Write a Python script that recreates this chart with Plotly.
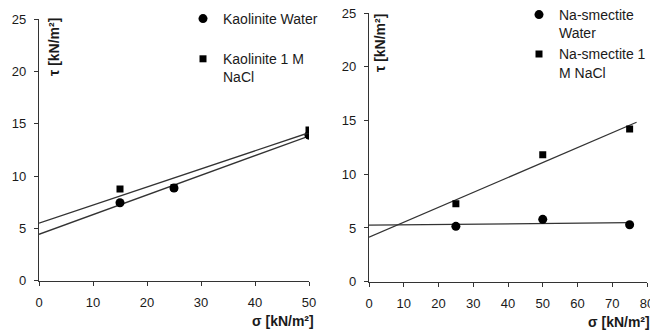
import numpy as np
import plotly.graph_objects as go

# ---- data ----
kao_sigma = [15, 25, 50]
kao_water = [7.45, 8.85, 13.9]
kao_nacl = [8.75, 8.9, 14.4]
kao_fit_range = [0, 50]

sme_sigma = [25, 50, 75]
sme_water = [5.15, 5.8, 5.3]
sme_nacl = [7.25, 11.8, 14.2]
sme_water_fit_range = [0, 75]
sme_nacl_fit_range = [0, 77]

y_ticks = [0, 5, 10, 15, 20, 25]
x_ticks_left = [0, 10, 20, 30, 40, 50]
x_ticks_right = [0, 10, 20, 30, 40, 50, 60, 70, 80]

W, H = 650, 334
FONT = "Liberation Sans, Arial, sans-serif"
INK = "#1a1a1a"
LINE = "#333333"


def fit_line(xs, ys, rng):
    k, b = np.polyfit(xs, ys, 1)
    xx = np.array(rng, dtype=float)
    return xx, k * xx + b


fig = go.Figure()

# left panel
for ys, sym, size, name in [
    (kao_water, "circle", 9, "Kaolinite Water"),
    (kao_nacl, "square", 7, "Kaolinite 1 M<br>NaCl"),
]:
    xx, yy = fit_line(kao_sigma, ys, kao_fit_range)
    fig.add_trace(go.Scatter(x=xx, y=yy, mode="lines", line=dict(color=LINE, width=1.3),
                             showlegend=False, xaxis="x", yaxis="y", hoverinfo="skip"))
    fig.add_trace(go.Scatter(x=kao_sigma, y=ys, mode="markers", name=name,
                             marker=dict(symbol=sym, size=size, color="black"),
                             xaxis="x", yaxis="y", legend="legend", legendgroup=name))

# right panel
for ys, rng, sym, size, name in [
    (sme_water, sme_water_fit_range, "circle", 9, "Na-smectite<br>Water"),
    (sme_nacl, sme_nacl_fit_range, "square", 7, "Na-smectite 1<br>M NaCl"),
]:
    xx, yy = fit_line(sme_sigma, ys, rng)
    fig.add_trace(go.Scatter(x=xx, y=yy, mode="lines", line=dict(color=LINE, width=1.3),
                             showlegend=False, xaxis="x2", yaxis="y2", hoverinfo="skip"))
    fig.add_trace(go.Scatter(x=sme_sigma, y=ys, mode="markers", name=name,
                             marker=dict(symbol=sym, size=size, color="black"),
                             xaxis="x2", yaxis="y2", legend="legend2", legendgroup=name))

axis_common = dict(showline=True, linecolor=LINE, linewidth=1.2, showgrid=False, zeroline=False,
                   ticks="outside", ticklen=4, tickcolor=LINE, tickwidth=1.2,
                   tickfont=dict(family=FONT, size=13, color=INK), mirror=False,
                   ticklabeloverflow="allow")

fig.update_layout(
    width=W, height=H, margin=dict(l=0, r=0, t=0, b=0, autoexpand=False),
    paper_bgcolor="white", plot_bgcolor="white",
    xaxis=dict(domain=[39 / W, 309 / W], range=[0, 50], tickvals=x_ticks_left,
               anchor="y", ticklabelstandoff=6, **axis_common),
    yaxis=dict(domain=[(H - 280.7) / H, (H - 19) / H], range=[0, 25], tickvals=y_ticks,
               anchor="x", ticklabelstandoff=5, **axis_common),
    xaxis2=dict(domain=[369 / W, 647 / W], range=[0, 80], tickvals=x_ticks_right,
                anchor="y2", ticklabelstandoff=6, **axis_common),
    yaxis2=dict(domain=[(H - 281.7) / H, (H - 13) / H], range=[0, 25], tickvals=y_ticks,
                anchor="x2", ticklabelstandoff=5, **axis_common),
    legend=dict(x=183 / W, y=1 - 3 / H, xanchor="left", yanchor="top",
                font=dict(family=FONT, size=14, color=INK), bgcolor="rgba(0,0,0,0)",
                traceorder="grouped", tracegroupgap=19, valign="top", itemwidth=30),
    legend2=dict(x=519 / W, y=1 + 1 / H, xanchor="left", yanchor="top",
                 font=dict(family=FONT, size=14, color=INK), bgcolor="rgba(0,0,0,0)",
                 traceorder="grouped", tracegroupgap=0, valign="top", itemwidth=30),
    showlegend=True,
)

title_font = dict(family=FONT, size=14, color=INK)
fig.add_annotation(text="<b>σ [kN/m²]</b>", xref="paper", yref="paper", x=316 / W, y=1 - 321 / H,
                   xanchor="right", yanchor="middle", showarrow=False, font=title_font)
fig.add_annotation(text="<b>σ [kN/m²]</b>", xref="paper", yref="paper", x=652 / W, y=1 - 322 / H,
                   xanchor="right", yanchor="middle", showarrow=False, font=title_font)
fig.add_annotation(text="<b>τ [kN/m²]</b>", xref="paper", yref="paper", x=54 / W, y=1 - 47 / H,
                   xanchor="center", yanchor="middle", showarrow=False, textangle=-90, font=title_font)
fig.add_annotation(text="<b>τ [kN/m²]</b>", xref="paper", yref="paper", x=380 / W, y=1 - 43 / H,
                   xanchor="center", yanchor="middle", showarrow=False, textangle=-90, font=title_font)

fig.write_html("out.html")
